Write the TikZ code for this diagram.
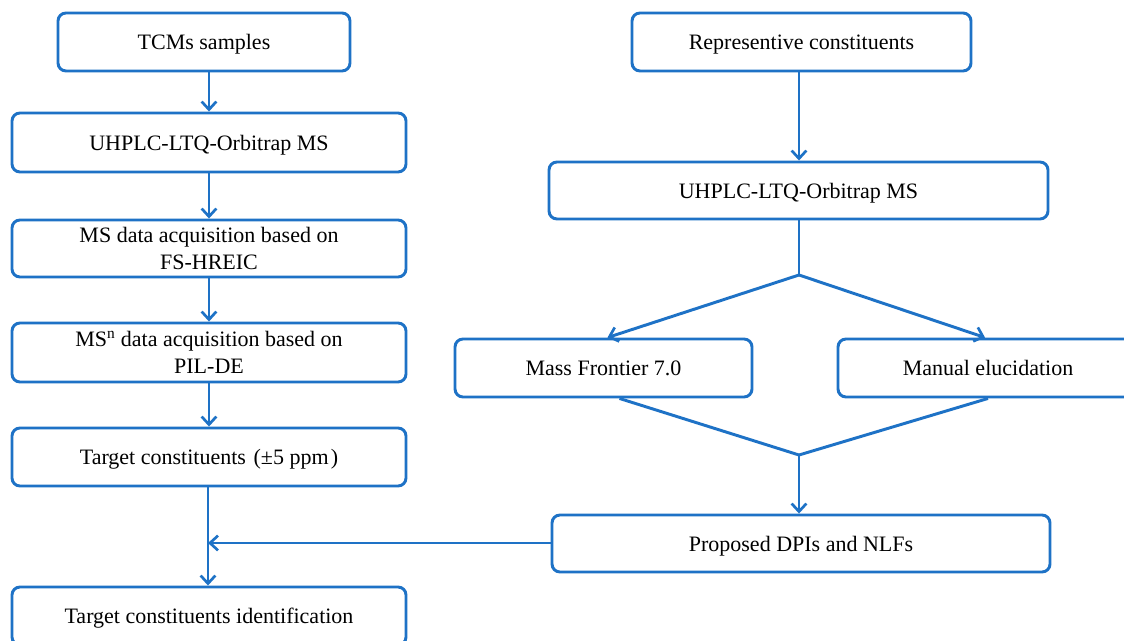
\documentclass[tikz,border=0pt]{standalone}
\usepackage{fontspec}
\setmainfont{Liberation Serif}
\usetikzlibrary{arrows.meta,calc}
\definecolor{flowblue}{RGB}{30,114,198}
\tikzset{
  box/.style={draw=flowblue, line width=2.2pt, rounded corners=6pt, fill=white,
    minimum height=#1*0.75pt, inner sep=0pt, align=center, text depth=0pt,
    font=\fontsize{16.5}{20}\selectfont},
  box/.default=58,
  conn/.style={draw=flowblue, line width=2.2pt},
  arr/.style={conn, -{Straight Barb[length=6pt,width=11pt,line width=2pt]}}
}
\begin{document}
\begin{tikzpicture}[x=0.75pt,y=-0.75pt]
\clip (0,0) rectangle (1124,641);
\fill[white] (0,0) rectangle (1124,641);
% left column
\node[box, minimum width=292*0.75pt] (tcm) at (204,42) {TCMs samples};
\node[box=59, minimum width=394*0.75pt] (uh1) at (209,142.5) {UHPLC-LTQ-Orbitrap MS};
\node[box=57, minimum width=394*0.75pt] (ms1) at (209,248.5) {MS data acquisition based on\\FS-HREIC};
\node[box=59, minimum width=394*0.75pt] (msn) at (209,352.5) {MS\textsuperscript{n} data acquisition based on\\PIL-DE};
\node[box, minimum width=394*0.75pt] (tc) at (209,457) {Target constituents\hspace{0.35em}(±5 ppm\hspace{0.1em})};
\node[box, minimum width=394*0.75pt] (tci) at (209,616) {Target constituents identification};
% right column
\node[box, minimum width=339*0.75pt] (rep) at (801.5,42) {Representive constituents};
\node[box=57, minimum width=499*0.75pt] (uh2) at (798.5,190.5) {UHPLC-LTQ-Orbitrap MS};
\node[box, minimum width=297*0.75pt] (mf) at (603.5,368) {Mass Frontier 7.0};
\node[box, minimum width=300*0.75pt] (me) at (988,368) {Manual elucidation};
\node[box=57, minimum width=498*0.75pt] (pdn) at (801,543.5) {Proposed DPIs and NLFs};
% coordinates
\coordinate (sp) at (799,275);
\coordinate (mg) at (799,455);
\coordinate (jn) at (208,543);
% left arrows
\draw[arr] (uh1.north |- tcm.south) -- (uh1.north);
\draw[arr] (uh1.south) -- (ms1.north);
\draw[arr] (ms1.south) -- (msn.north);
\draw[arr] (msn.south) -- (tc.north);
\draw[arr] (jn |- tc.south) -- (jn |- tci.north);
\draw[arr] (pdn.west |- jn) -- (jn);
% right arrows
\draw[arr] (rep.south -| sp) -- (uh2.north -| sp);
\draw[conn] (uh2.south -| sp) -- (sp);
\draw[arr] (sp) -- ($(mf.north)+(4,0)$);
\draw[arr] (sp) -- ($(me.north)+(-3,0)$);
\draw[conn] ($(mf.south)+(16,0)$) -- (mg) -- (me.south);
\draw[arr] (mg) -- (pdn.north -| mg);
\end{tikzpicture}
\end{document}
